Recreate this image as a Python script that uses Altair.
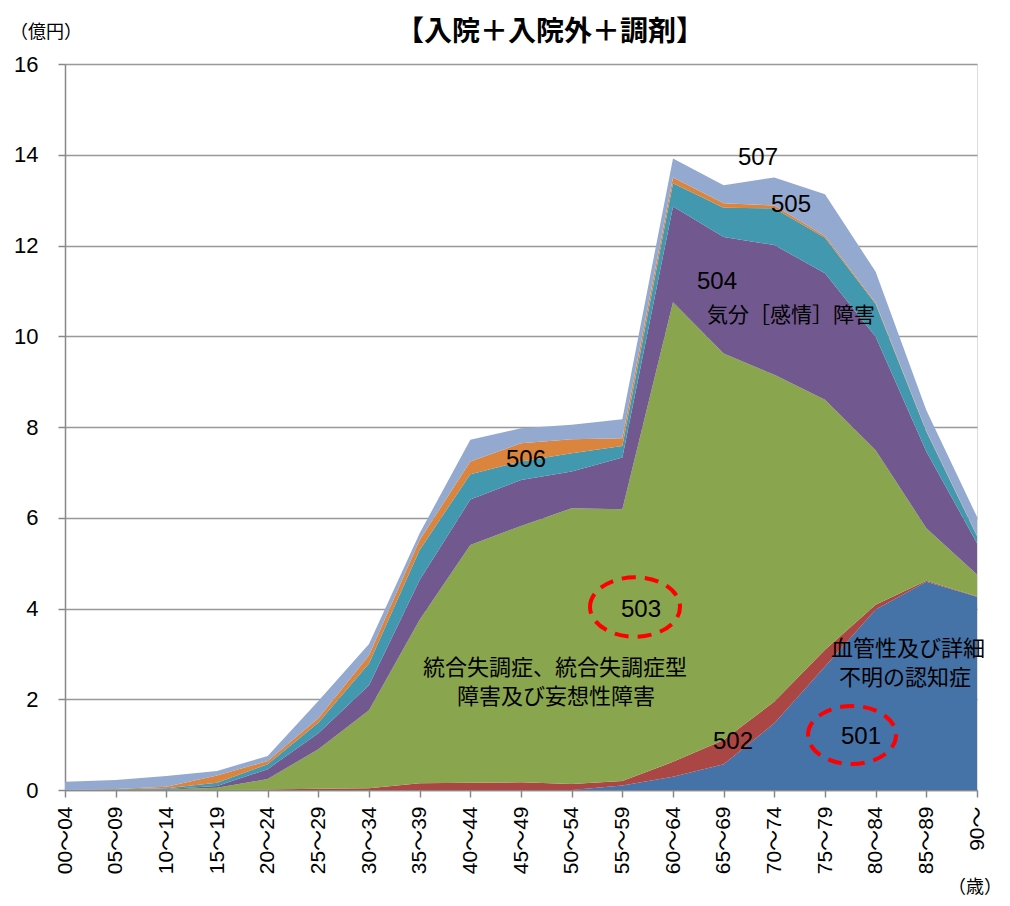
import altair as alt
import pandas as pd

# ---- data ----
ages = ["00～04", "05～09", "10～14", "15～19", "20～24", "25～29", "30～34",
        "35～39", "40～44", "45～49", "50～54", "55～59", "60～64", "65～69",
        "70～74", "75～79", "80～84", "85～89", "90～"]
series_names = ["501", "502", "503", "504", "505", "506", "507"]
s501 = [0, 0, 0, 0, 0, 0, 0, 0, 0, 0, 0, 0.10, 0.29, 0.57, 1.47, 2.72, 3.98, 4.59, 4.26]
s502 = [0, 0, 0, 0, 0.01, 0.03, 0.04, 0.15, 0.16, 0.17, 0.13, 0.10, 0.33, 0.53, 0.48, 0.37, 0.10, 0.02, 0.01]
s503 = [0, 0, 0.01, 0.05, 0.23, 0.87, 1.72, 3.60, 5.24, 5.65, 6.08, 5.99, 10.13, 8.52, 7.20, 5.51, 3.41, 1.16, 0.48]
s504 = [0, 0, 0.01, 0.04, 0.22, 0.35, 0.55, 0.88, 1.00, 1.01, 0.81, 1.14, 2.11, 2.57, 2.86, 2.79, 2.50, 1.69, 0.69]
s505 = [0, 0.01, 0.02, 0.07, 0.11, 0.23, 0.48, 0.66, 0.56, 0.41, 0.40, 0.25, 0.51, 0.64, 0.81, 0.78, 0.72, 0.44, 0.16]
s506 = [0, 0.01, 0.03, 0.16, 0.07, 0.10, 0.18, 0.22, 0.28, 0.40, 0.31, 0.17, 0.13, 0.10, 0.06, 0.04, 0.03, 0.02, 0.01]
s507 = [0.18, 0.20, 0.24, 0.10, 0.11, 0.38, 0.25, 0.15, 0.48, 0.33, 0.32, 0.42, 0.42, 0.40, 0.62, 0.92, 0.68, 0.45, 0.41]
y_ticks = [0, 2, 4, 6, 8, 10, 12, 14, 16]

colors = ["#4572A7", "#AA4643", "#89A54E", "#71588F", "#4198AF", "#DB843D", "#93A9CF"]

all_series = [s501, s502, s503, s504, s505, s506, s507]
rows = []
for k, (name, vals) in enumerate(zip(series_names, all_series)):
    for a, v in zip(ages, vals):
        rows.append({"age": a, "code": name, "value": v, "ord": k})
df = pd.DataFrame(rows)

W, H = 912, 726
NUM_FONT = "Liberation Sans, Arial, Noto Sans CJK JP"
JP_FONT = "Noto Sans CJK JP, sans-serif"

areas = alt.Chart(df).mark_area(opacity=1).encode(
    x=alt.X("age:N", sort=ages, scale=alt.Scale(type="point", padding=0),
            axis=alt.Axis(title=None, labelAngle=270, labelFontSize=21, labelFont=NUM_FONT,
                          labelColor="#000", tickSize=7, tickColor="#888", tickWidth=1.5,
                          domainColor="#888", domainWidth=1.5, labelPadding=9, grid=False)),
    y=alt.Y("value:Q", stack="zero", scale=alt.Scale(domain=[0, 16], nice=False),
            axis=alt.Axis(title=None, values=y_ticks, labelFontSize=22, labelFont=NUM_FONT,
                          labelColor="#000", tickSize=7, tickColor="#888", tickWidth=1.5,
                          domainColor="#888", domainWidth=1.5, labelPadding=20,
                          grid=True, gridColor="#999", gridWidth=1.5)),
    color=alt.Color("code:N", sort=series_names,
                    scale=alt.Scale(domain=series_names, range=colors), legend=None),
    order=alt.Order("ord:Q", sort="ascending"),
)

# ---- annotation layout (pixel positions inside plot area) ----
texts = [
    ("【入院＋入院外＋調剤】", 485, -31, 28, "bold", JP_FONT),
    ("（億円）", -19, -31, 18, "normal", JP_FONT),
    ("（歳）", 910, 824, 18, "normal", JP_FONT),
    ("507", 693, 94, 24, "normal", NUM_FONT),
    ("505", 726, 141, 24, "normal", NUM_FONT),
    ("504", 652, 218, 24, "normal", NUM_FONT),
    ("気分［感情］障害", 726, 252, 21, "normal", JP_FONT),
    ("506", 461, 396, 24, "normal", NUM_FONT),
    ("503", 576, 546, 24, "normal", NUM_FONT),
    ("統合失調症、統合失調症型", 490, 604, 22, "normal", JP_FONT),
    ("障害及び妄想性障害", 491, 633, 22, "normal", JP_FONT),
    ("502", 668, 678, 24, "normal", NUM_FONT),
    ("血管性及び詳細", 843, 585, 22, "normal", JP_FONT),
    ("不明の認知症", 840, 614, 22, "normal", JP_FONT),
    ("501", 796, 673, 24, "normal", NUM_FONT),
]
layers = [areas]
for t, px, py, fs, fw, ff in texts:
    layers.append(
        alt.Chart(alt.Data(values=[{}])).mark_text(
            text=t, fontSize=fs, fontWeight=fw, font=ff, color="#000",
            align="center", baseline="middle"
        ).encode(x=alt.value(px), y=alt.value(py))
    )

ellipse_path = "M-1,0A1,0.66,0,1,1,1,0A1,0.66,0,1,1,-1,0Z"
for cx, cy, w in [(570, 543, 90), (787, 671, 88)]:
    layers.append(
        alt.Chart(alt.Data(values=[{}])).mark_point(
            shape=ellipse_path, size=w * w, filled=False, stroke="#FF0000",
            strokeWidth=4, strokeDash=[14, 9], opacity=1
        ).encode(x=alt.value(cx), y=alt.value(cy))
    )

chart = alt.layer(*layers).properties(
    width=W, height=H,
    autosize=alt.AutoSizeParams(type="none"),
    padding={"left": 57, "top": 56, "right": 25, "bottom": 108},
).configure_view(stroke="#888", strokeWidth=1.5).configure(background="white")

chart.save("out.html", embed_options={"renderer": "svg", "actions": False})
